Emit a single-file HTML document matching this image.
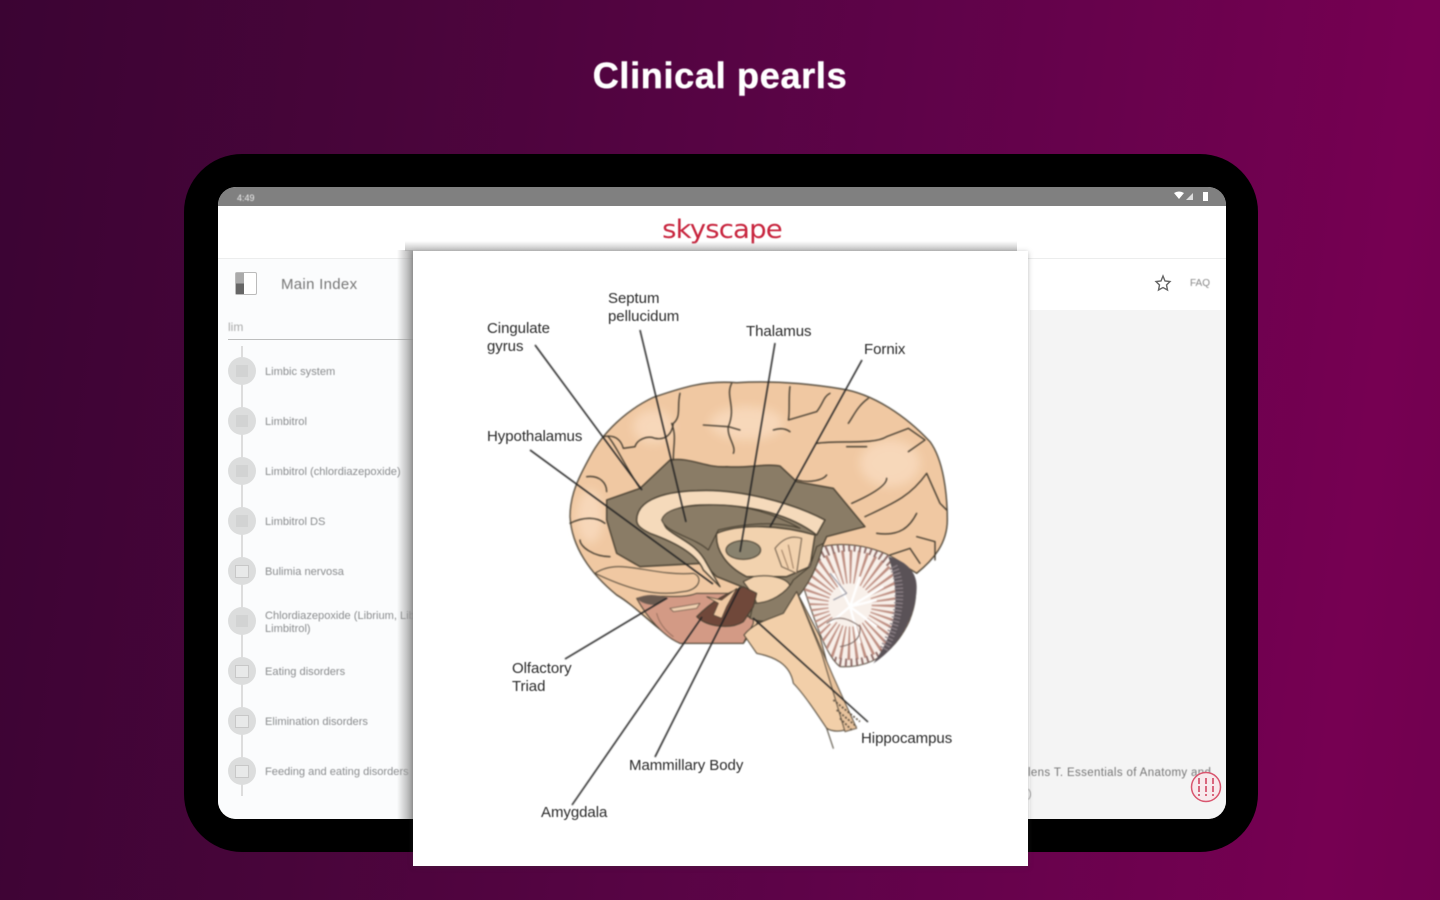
<!DOCTYPE html>
<html lang="en"><head><meta charset="utf-8"><title>Clinical pearls</title>
<style>
html,body{margin:0;padding:0}
body{width:1440px;height:900px;overflow:hidden;position:relative;font-family:"Liberation Sans",sans-serif;background:linear-gradient(97deg,#3b0433 0%,#48053a 25%,#5f0349 60%,#760052 92%,#71004f 100%)}
.a{position:absolute}
h1{position:absolute;left:0;width:1440px;top:55px;margin:0;text-align:center;color:#fff;font-size:36px;line-height:42px;font-weight:700;letter-spacing:.7px;-webkit-text-stroke:.5px #fff;filter:blur(.4px)}
.dev{left:184px;top:154px;width:1074px;height:698px;background:#000;border-radius:58px}
.scr{left:218px;top:187px;width:1008px;height:632px;background:#fff;border-radius:18px;overflow:hidden}
.t{position:absolute;color:#8b8d8f;font-size:11.1px;line-height:13px;white-space:nowrap;filter:blur(.6px)}
.c{position:absolute;left:228px;width:28px;height:28px;border-radius:50%;background:#dcdddd}
.c i{position:absolute;left:8px;top:8px;width:12px;height:12px;background:#d2d3d3;display:block}
.c.o i{background:#e8e9e9;border:1px solid #c8c8c8;width:12px;height:11px;left:7px}
.l{position:absolute;font-size:15px;line-height:18px;color:#2a2a2a;white-space:nowrap;letter-spacing:-.05px;filter:blur(.55px)}
</style></head><body>
<h1>Clinical pearls</h1>
<div class="a dev"></div>
<div class="a scr">
  <div class="a" style="left:0;top:0;width:1008px;height:19px;background:#808080"></div>
  <div class="a" style="left:0;top:71px;width:1008px;height:1px;background:#eceded"></div>
  <div class="a" style="left:0;top:72px;width:200px;height:560px;background:#fbfcfd"></div>
  <div class="a" style="left:812px;top:123px;width:196px;height:509px;background:#f4f4f4"></div>
</div>
<div class="t" style="left:237px;top:192px;color:#eee;font-size:9px">4:49</div>
<svg class="a" style="left:1172px;top:191px" width="40" height="12"><path d="M2 2Q7-1 12 2L7 8Z" fill="#fff"/><path d="M14 9L21 2V9Z" fill="#ddd"/><rect x="31" y="1" width="5" height="9" fill="#fff"/></svg>
<div class="a" style="left:660px;top:215px;width:124px;text-align:center;color:#c8253e;font:26px/30px 'DejaVu Sans',sans-serif;letter-spacing:-.8px;transform:scaleX(1.06);filter:blur(.4px);white-space:nowrap">skyscape</div>
<div class="a" style="left:235px;top:272px;width:22px;height:23px;border:1px solid #bbb;border-radius:2px;background:#fff;box-sizing:border-box"><div style="width:8px;height:21px;background:linear-gradient(#aaa 50%,#666 50%)"></div></div>
<div class="t" style="left:281px;top:276px;font-size:15px;line-height:18px;color:#777;letter-spacing:.3px">Main Index</div>
<div class="t" style="left:228px;top:321px;font-size:12px;color:#aaa">lim</div>
<div class="a" style="left:228px;top:339px;width:186px;height:1px;background:#bdbebe"></div>
<div class="a" style="left:241px;top:346px;width:2px;height:450px;background:#ddd"></div>
<div class="c" style="top:357px"><i></i></div><div class="t" style="left:265px;top:366px">Limbic system</div>
<div class="c" style="top:407px"><i></i></div><div class="t" style="left:265px;top:416px">Limbitrol</div>
<div class="c" style="top:457px"><i></i></div><div class="t" style="left:265px;top:466px">Limbitrol (chlordiazepoxide)</div>
<div class="c" style="top:507px"><i></i></div><div class="t" style="left:265px;top:516px">Limbitrol DS</div>
<div class="c o" style="top:557px"><i></i></div><div class="t" style="left:265px;top:566px">Bulimia nervosa</div>
<div class="c" style="top:607px"><i></i></div><div class="t" style="left:265px;top:610px;line-height:13px">Chlordiazepoxide (Librium, Lib<br>Limbitrol)</div>
<div class="c o" style="top:657px"><i></i></div><div class="t" style="left:265px;top:666px">Eating disorders</div>
<div class="c o" style="top:707px"><i></i></div><div class="t" style="left:265px;top:716px">Elimination disorders</div>
<div class="c o" style="top:757px"><i></i></div><div class="t" style="left:265px;top:766px">Feeding and eating disorders</div>
<svg class="a" style="left:1154px;top:274px" width="18" height="18"><path d="M9 2L11 7L16 7.500L12.500 11L13.500 16L9 13.500L4.500 16L5.500 11L2 7.500L7 7Z" fill="none" stroke="#666" stroke-width="1.400"/></svg>
<div class="t" style="left:1190px;top:277px;font-size:10px;color:#888">FAQ</div>
<div class="t" style="left:1028px;top:767px;width:186px;overflow:hidden;font-size:11.500px;color:#777;letter-spacing:.35px">lens T. Essentials of Anatomy and</div>
<div class="t" style="left:1028px;top:788px;font-size:11px;color:#999">)</div>
<svg class="a" style="left:1190px;top:771px" width="32" height="32"><circle cx="16" cy="16" r="14.500" fill="#f7e9ec" stroke="#d9566f" stroke-width="1.500"/><path d="M9 7V25M16 7V25M23 7V25" stroke="#cf3a58" stroke-width="1.500" stroke-dasharray="6 2"/></svg>
<div class="a" style="left:397px;top:250px;width:16px;height:569px;background:linear-gradient(to right,rgba(150,150,150,0),rgba(150,150,150,.9))"></div>
<div class="a" style="left:405px;top:241px;width:612px;height:10px;background:linear-gradient(to bottom,rgba(170,170,170,0),rgba(170,170,170,.75))"></div>
<div class="a" style="left:413px;top:251px;width:615px;height:615px;background:#fff;box-shadow:0 1px 5px rgba(60,60,60,.35)"></div>

<svg class="a" style="left:0;top:0;filter:blur(.75px)" width="1440" height="900" viewBox="0 0 1440 900">
<defs>
<clipPath id="cb"><path d="M845 560C940 540 1040 570 1100 620C1135 660 1135 720 1105 790C1060 880 990 925 900 920C860 890 830 800 790 680C800 620 820 580 845 560Z"/></clipPath>
<filter id="sf"><feGaussianBlur stdDeviation="14"/></filter>
</defs>
<g transform="translate(540 360) scale(.33333)" stroke-linejoin="round" stroke-linecap="round">
<path d="M90 470C90 400 120 345 150 290C190 215 260 150 340 112C420 85 490 60 590 68C690 62 800 70 900 86C1000 100 1100 170 1170 245C1210 300 1222 400 1222 480C1222 550 1180 600 1130 640L1050 590L850 590L700 720L610 850L420 850C350 810 290 740 230 705C150 640 95 560 90 470Z" fill="#f0c8a2" stroke="#4a4234" stroke-width="4"/>
<g filter="url(#sf)" fill="#f9dcc0" opacity=".8"><ellipse cx="620" cy="190" rx="110" ry="50"/><ellipse cx="1050" cy="310" rx="90" ry="70"/><ellipse cx="150" cy="470" rx="40" ry="80"/><ellipse cx="340" cy="200" rx="60" ry="50"/></g>
<path d="M290 715C350 700 420 720 470 700L640 700L640 790L610 850L420 850C370 830 320 770 290 715Z" fill="#d39a85" stroke="#4a4234" stroke-width="3"/>
<path d="M350 760Q360 800 400 830" fill="none" stroke="#7a5a4c" stroke-width="2"/>
<path d="M200 420L300 385L390 300C450 290 500 325 560 320C620 325 680 310 720 318L770 365L880 385L975 500L860 530L820 620L760 715L670 790L625 770L605 680L530 650L490 610L300 620L230 580L200 480Z" fill="#8a7c66" stroke="#463e30" stroke-width="4"/>
<path d="M165 640C240 590 330 650 460 640C490 650 480 690 430 695C350 710 270 690 165 640Z" fill="#f0c8a2" stroke="#4a4234" stroke-width="3"/>
<path d="M290 480C290 430 350 395 470 392C600 385 760 430 855 480L830 525C760 470 640 430 480 435C400 438 350 470 380 505C420 540 470 550 500 610L540 680L490 630C470 580 400 545 330 520C300 505 290 495 290 480Z" fill="#f5dabb" stroke="#463e30" stroke-width="4"/>
<path d="M365 480C375 445 440 435 520 435C620 435 700 460 780 505C700 480 600 495 535 510L505 570C460 530 380 520 365 480Z" fill="#8a7c66" stroke="#463e30" stroke-width="3"/>
<path d="M530 520C600 490 720 495 825 525L810 620L740 650L620 650C560 620 525 570 530 520Z" fill="#f2d2ae" stroke="#463e30" stroke-width="4"/>
<ellipse cx="610" cy="570" rx="52" ry="28" fill="#89826e" stroke="#463e30" stroke-width="3"/>
<path d="M705 565Q740 520 785 535L770 640L725 620Z" fill="#f2d2ae" stroke="#6b5a48" stroke-width="3"/>
<path d="M725 570L745 625M745 555L760 625" stroke="#8a6a50" stroke-width="2.500" fill="none"/>
<path d="M845 560C940 540 1040 570 1100 620C1135 660 1135 720 1105 790C1060 880 990 925 900 920C860 890 830 800 790 680C800 620 820 580 845 560Z" fill="#f8f0ea" stroke="#4a4234" stroke-width="3"/>
<g clip-path="url(#cb)" fill="none" stroke-linecap="butt">
<circle cx="930" cy="735" r="115" stroke="#bd8d80" stroke-width="100" stroke-dasharray="6 12"/>
<circle cx="930" cy="735" r="178" stroke="#8d6a66" stroke-width="34" stroke-dasharray="6 11"/>
<path d="M930 740L880 640M930 740L960 650M930 740L1010 720M930 740L960 850M930 740L870 790M930 740L1030 680M930 740L1010 800" stroke="#fff" stroke-width="7"/>
<path d="M870 640L920 700L880 720" stroke="#8e8f9c" stroke-width="3"/>
<path d="M860 790Q900 755 960 800Q965 850 900 860" stroke="#7a6660" stroke-width="3"/>
</g>
<path d="M1045 590C1090 600 1130 630 1130 680C1130 760 1080 860 1000 910C1060 830 1090 720 1045 590Z" fill="#5a5257"/>
<path d="M1060 620C1090 680 1080 780 1030 870" stroke="#8e8288" stroke-width="26" fill="none" stroke-dasharray="4 7" stroke-linecap="butt"/>
<path d="M640 650C700 640 750 660 750 680C730 710 690 730 650 730C640 700 620 680 610 665Z" fill="#f2d2ae" stroke="#463e30" stroke-width="3"/>
<path d="M760 660L810 620L830 560L850 550C830 640 790 700 730 760C700 785 670 790 630 775L640 730C690 730 740 700 760 660Z" fill="#8a7c66" stroke="#463e30" stroke-width="3"/>
<path d="M470 770C520 720 560 700 610 680L650 700L640 740L610 785C570 810 500 800 470 770Z" fill="#70483a" stroke="#463e30" stroke-width="3"/>
<path d="M500 710L545 720L590 685L560 740L545 775L520 765L535 730Z" fill="#f0c8a2" stroke="#463e30" stroke-width="2"/>
<path d="M390 745L480 730L470 745L400 755Z" fill="#f0d0b0" stroke="#5a4a3c" stroke-width="2"/>
<path d="M290 715Q330 695 385 715L350 735Q310 735 290 715Z" fill="#6a5a50"/>
<path d="M770 695L840 830L915 1110C880 1120 860 1105 860 1105C830 1060 790 1000 760 970C750 910 700 890 650 880L612 825C640 790 680 780 730 760Z" fill="#f2cfa9" stroke="#4a4234" stroke-width="3"/>
<path d="M860 1105L880 1165" stroke="#4a4234" stroke-width="3"/>
<path d="M770 695L880 950L950 1105L915 1115L845 880Z" fill="#e8c39d" stroke="#5a4e3e" stroke-width="3"/>
<path d="M880 1020L960 1085M890 1050L950 1100M900 1075L935 1110" stroke="#5a4e3e" stroke-width="5" stroke-dasharray="6 5" stroke-linecap="butt"/>
<g fill="none" stroke="#3f382c" stroke-width="4">
<path d="M420 100C410 140 425 170 400 190C395 230 370 240 345 235C320 225 290 240 285 260L250 265C240 230 215 225 190 230"/>
<path d="M575 70C555 110 590 140 565 200C560 230 590 260 580 280"/>
<path d="M490 195L565 200L600 210"/>
<path d="M750 80C745 110 750 160 745 180L830 155C850 130 850 110 870 100"/>
<path d="M700 210Q730 200 750 215"/>
<path d="M985 115C950 140 940 170 925 190"/>
<path d="M830 250C900 240 1000 255 1040 230L1105 205L1155 240L1105 275"/>
<path d="M920 260L980 260"/>
<path d="M770 360C810 370 850 360 860 345"/>
<path d="M935 430C980 410 1040 380 1040 355"/>
<path d="M975 470C1060 430 1110 410 1160 340L1200 430L1220 450"/>
<path d="M1010 520C1080 530 1110 500 1130 460"/>
<path d="M1130 530L1185 545L1185 600"/>
<path d="M1050 585L1110 565L1140 610"/>
<path d="M140 350C180 345 200 370 200 395"/>
<path d="M90 490C130 470 170 470 195 490"/>
<path d="M120 540C120 560 160 590 210 590"/>
<path d="M205 230C230 260 250 310 300 385"/>
<path d="M400 300C400 250 410 230 395 190"/>
</g></g>
<g stroke="#222" stroke-width="1.500" fill="none">
<path d="M535 345L642 490"/><path d="M640 330L686 522"/><path d="M775 343L740 552"/><path d="M862 360L770 527"/>
<path d="M530 450L713 584"/><path d="M565 659L667 598"/><path d="M655 757L740 587"/><path d="M572 805L702 617"/><path d="M868 722L753 618"/>
</g></svg>
<div class="l" style="left:487px;top:320px">Cingulate<br>gyrus</div>
<div class="l" style="left:608px;top:290px">Septum<br>pellucidum</div>
<div class="l" style="left:746px;top:323px">Thalamus</div>
<div class="l" style="left:864px;top:341px">Fornix</div>
<div class="l" style="left:487px;top:428px">Hypothalamus</div>
<div class="l" style="left:512px;top:660px">Olfactory<br>Triad</div>
<div class="l" style="left:861px;top:730px">Hippocampus</div>
<div class="l" style="left:629px;top:757px">Mammillary Body</div>
<div class="l" style="left:541px;top:804px">Amygdala</div>
</body></html>
